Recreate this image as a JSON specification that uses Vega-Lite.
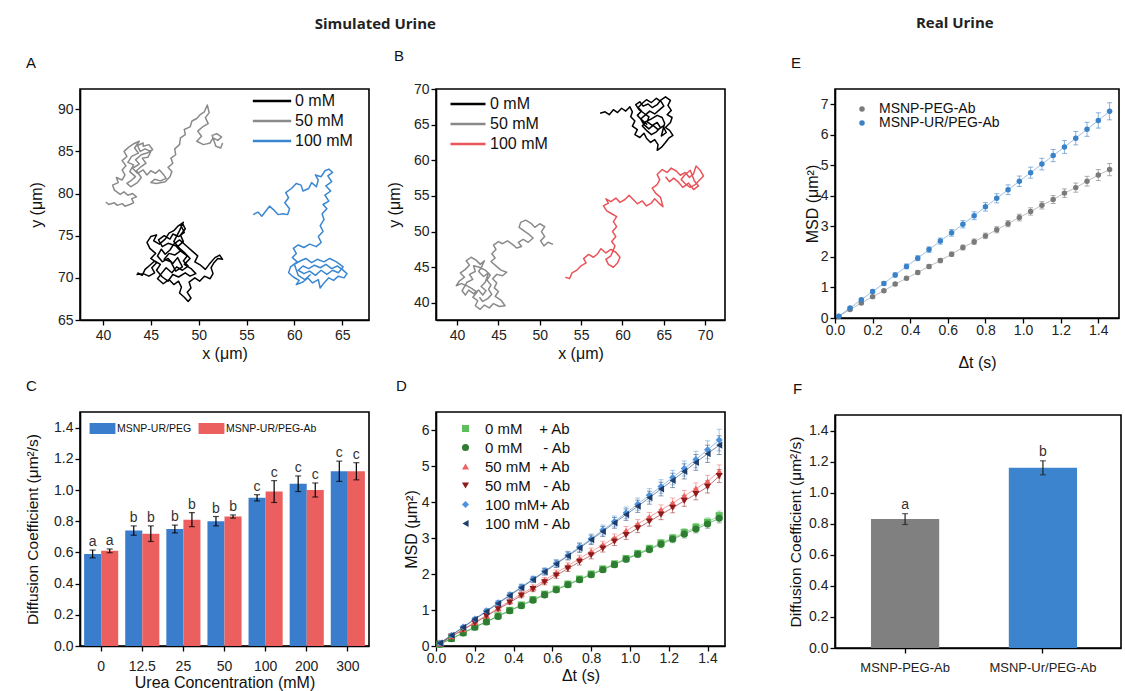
{
"$schema":"https://vega.github.io/schema/vega-lite/v6.json",
"background":"white",
"padding":{"left":24,"top":16,"right":0,"bottom":0},
"spacing":61,
"config":{
 "font":"Liberation Sans",
 "view":{"stroke":"#000000","strokeWidth":1.6},
 "axis":{"domainColor":"#000000","domainWidth":1.6,"tickColor":"#000000","tickWidth":1.3,"tickSize":5,"labelColor":"#222222","labelFontSize":14,"labelPadding":2,"labelFlush":false,"labelOverlap":false,"titleFontSize":16,"titleFontWeight":"normal","titleColor":"#111111","grid":false},
 "legend":{"labelColor":"#111111","padding":0,"titlePadding":0},
 "title":{"fontWeight":"normal","color":"#111111","fontSize":15}
},
"datasets":{
"trajA":[
{"s":"50 mM","x":40.3,"y":79.0},{"s":"50 mM","x":40.6,"y":78.7},{"s":"50 mM","x":41.2,"y":78.9},{"s":"50 mM","x":41.5,"y":78.6},{"s":"50 mM","x":42.0,"y":78.8},{"s":"50 mM","x":42.3,"y":78.5},{"s":"50 mM","x":42.8,"y":78.7},{"s":"50 mM","x":43.2,"y":78.9},{"s":"50 mM","x":43.0,"y":79.4},{"s":"50 mM","x":43.5,"y":79.6},{"s":"50 mM","x":43.1,"y":80.0},{"s":"50 mM","x":42.6,"y":79.8},{"s":"50 mM","x":42.2,"y":80.2},{"s":"50 mM","x":41.8,"y":79.9},{"s":"50 mM","x":41.2,"y":80.4},{"s":"50 mM","x":41.0,"y":81.0},{"s":"50 mM","x":41.6,"y":81.3},{"s":"50 mM","x":41.4,"y":81.9},{"s":"50 mM","x":42.0,"y":81.6},{"s":"50 mM","x":42.3,"y":82.2},{"s":"50 mM","x":42.0,"y":82.8},{"s":"50 mM","x":42.4,"y":83.3},{"s":"50 mM","x":42.0,"y":83.9},{"s":"50 mM","x":42.5,"y":84.4},{"s":"50 mM","x":42.2,"y":85.0},{"s":"50 mM","x":42.7,"y":85.5},{"s":"50 mM","x":43.2,"y":85.9},{"s":"50 mM","x":43.8,"y":86.2},
{"s":"50 mM","x":43.3,"y":85.4},{"s":"50 mM","x":43.7,"y":84.8},{"s":"50 mM","x":43.0,"y":84.4},{"s":"50 mM","x":42.6,"y":83.7},{"s":"50 mM","x":43.2,"y":83.4},{"s":"50 mM","x":42.8,"y":82.6},{"s":"50 mM","x":43.4,"y":82.0},{"s":"50 mM","x":43.0,"y":81.6},{"s":"50 mM","x":42.5,"y":81.2},{"s":"50 mM","x":42.9,"y":80.8},{"s":"50 mM","x":43.6,"y":81.3},{"s":"50 mM","x":44.0,"y":81.9},{"s":"50 mM","x":43.5,"y":82.7},{"s":"50 mM","x":44.0,"y":83.2},{"s":"50 mM","x":44.5,"y":83.6},{"s":"50 mM","x":44.1,"y":84.2},{"s":"50 mM","x":44.7,"y":84.3},{"s":"50 mM","x":45.0,"y":85.0},{"s":"50 mM","x":44.4,"y":85.3},{"s":"50 mM","x":43.9,"y":85.0},{"s":"50 mM","x":43.6,"y":85.7},{"s":"50 mM","x":44.2,"y":86.0},
{"s":"50 mM","x":44.2,"y":85.6},{"s":"50 mM","x":44.8,"y":85.8},{"s":"50 mM","x":45.2,"y":85.2},{"s":"50 mM","x":44.6,"y":84.8},{"s":"50 mM","x":44.0,"y":84.6},{"s":"50 mM","x":43.4,"y":84.0},{"s":"50 mM","x":43.8,"y":83.5},{"s":"50 mM","x":43.1,"y":83.0},{"s":"50 mM","x":43.6,"y":82.4},{"s":"50 mM","x":44.2,"y":82.8},{"s":"50 mM","x":44.6,"y":82.2},{"s":"50 mM","x":45.0,"y":82.7},{"s":"50 mM","x":45.5,"y":82.4},{"s":"50 mM","x":45.9,"y":82.8},{"s":"50 mM","x":46.3,"y":82.3},{"s":"50 mM","x":46.6,"y":81.8},{"s":"50 mM","x":46.0,"y":81.5},{"s":"50 mM","x":45.4,"y":81.7},{"s":"50 mM","x":45.0,"y":81.3},{"s":"50 mM","x":45.6,"y":81.2},{"s":"50 mM","x":46.5,"y":81.4},{"s":"50 mM","x":47.0,"y":82.0},{"s":"50 mM","x":47.2,"y":82.6},{"s":"50 mM","x":46.8,"y":83.1},{"s":"50 mM","x":47.3,"y":83.6},{"s":"50 mM","x":47.1,"y":84.2},{"s":"50 mM","x":47.6,"y":84.6},{"s":"50 mM","x":47.5,"y":85.3},{"s":"50 mM","x":48.0,"y":85.8},{"s":"50 mM","x":48.1,"y":86.6},{"s":"50 mM","x":48.6,"y":87.0},{"s":"50 mM","x":48.5,"y":87.6},{"s":"50 mM","x":49.1,"y":87.9},{"s":"50 mM","x":49.3,"y":88.6},{"s":"50 mM","x":49.8,"y":88.9},{"s":"50 mM","x":50.2,"y":89.4},{"s":"50 mM","x":50.6,"y":89.7},{"s":"50 mM","x":50.9,"y":90.5},{"s":"50 mM","x":51.1,"y":89.6},{"s":"50 mM","x":50.7,"y":89.0},{"s":"50 mM","x":51.0,"y":88.3},{"s":"50 mM","x":50.4,"y":87.9},{"s":"50 mM","x":49.9,"y":87.4},{"s":"50 mM","x":50.3,"y":86.8},{"s":"50 mM","x":49.8,"y":86.2},{"s":"50 mM","x":50.5,"y":85.8},{"s":"50 mM","x":51.2,"y":86.0},{"s":"50 mM","x":51.5,"y":86.6},{"s":"50 mM","x":52.0,"y":86.3},{"s":"50 mM","x":52.4,"y":86.7},{"s":"50 mM","x":51.9,"y":87.1},{"s":"50 mM","x":51.4,"y":86.9},{"s":"50 mM","x":51.8,"y":85.6},{"s":"50 mM","x":52.3,"y":85.4},{"s":"50 mM","x":52.5,"y":86.0},
{"s":"0 mM","x":43.5,"y":70.4},{"s":"0 mM","x":44.2,"y":70.5},{"s":"0 mM","x":44.8,"y":70.2},{"s":"0 mM","x":45.4,"y":70.6},{"s":"0 mM","x":45.1,"y":71.2},{"s":"0 mM","x":45.6,"y":71.8},{"s":"0 mM","x":45.0,"y":72.3},{"s":"0 mM","x":45.5,"y":72.9},{"s":"0 mM","x":44.9,"y":73.5},{"s":"0 mM","x":44.6,"y":74.2},{"s":"0 mM","x":45.0,"y":74.9},{"s":"0 mM","x":45.6,"y":75.1},{"s":"0 mM","x":45.3,"y":74.4},{"s":"0 mM","x":45.9,"y":74.0},{"s":"0 mM","x":46.5,"y":74.6},{"s":"0 mM","x":46.9,"y":75.3},{"s":"0 mM","x":47.4,"y":75.6},{"s":"0 mM","x":47.8,"y":76.1},{"s":"0 mM","x":48.3,"y":76.5},{"s":"0 mM","x":48.6,"y":75.8},{"s":"0 mM","x":48.1,"y":75.1},{"s":"0 mM","x":48.4,"y":74.3},{"s":"0 mM","x":47.8,"y":73.7},{"s":"0 mM","x":48.2,"y":73.1},{"s":"0 mM","x":48.8,"y":72.6},{"s":"0 mM","x":48.4,"y":72.0},{"s":"0 mM","x":48.9,"y":71.4},{"s":"0 mM","x":48.3,"y":70.9},{"s":"0 mM","x":47.7,"y":71.3},{"s":"0 mM","x":47.2,"y":70.6},{"s":"0 mM","x":46.6,"y":71.2},{"s":"0 mM","x":46.1,"y":70.5},{"s":"0 mM","x":45.7,"y":69.9},{"s":"0 mM","x":46.3,"y":69.3},{"s":"0 mM","x":46.9,"y":69.8},{"s":"0 mM","x":47.4,"y":69.2},{"s":"0 mM","x":47.9,"y":69.6},{"s":"0 mM","x":48.2,"y":68.9},{"s":"0 mM","x":48.0,"y":68.2},{"s":"0 mM","x":48.5,"y":67.7},{"s":"0 mM","x":48.9,"y":67.2},{"s":"0 mM","x":49.2,"y":67.6},{"s":"0 mM","x":48.8,"y":68.3},{"s":"0 mM","x":49.2,"y":68.8},{"s":"0 mM","x":49.0,"y":69.5},{"s":"0 mM","x":49.6,"y":70.0},{"s":"0 mM","x":50.1,"y":69.6},{"s":"0 mM","x":50.6,"y":70.2},{"s":"0 mM","x":51.2,"y":69.9},{"s":"0 mM","x":51.5,"y":70.5},{"s":"0 mM","x":51.3,"y":71.2},{"s":"0 mM","x":51.6,"y":71.8},{"s":"0 mM","x":52.0,"y":72.3},{"s":"0 mM","x":52.5,"y":72.2},{"s":"0 mM","x":52.2,"y":72.7},{"s":"0 mM","x":51.7,"y":72.4},{"s":"0 mM","x":51.1,"y":71.6},{"s":"0 mM","x":50.7,"y":71.0},{"s":"0 mM","x":50.2,"y":71.5},{"s":"0 mM","x":49.6,"y":71.9},{"s":"0 mM","x":49.9,"y":72.6},{"s":"0 mM","x":49.3,"y":73.2},{"s":"0 mM","x":48.7,"y":73.8},{"s":"0 mM","x":48.0,"y":74.5},{"s":"0 mM","x":47.4,"y":74.0},{"s":"0 mM","x":47.0,"y":73.3},{"s":"0 mM","x":46.5,"y":72.8},{"s":"0 mM","x":46.1,"y":73.4},{"s":"0 mM","x":45.7,"y":72.6},{"s":"0 mM","x":46.2,"y":71.9},{"s":"0 mM","x":46.8,"y":72.3},{"s":"0 mM","x":47.3,"y":71.7},{"s":"0 mM","x":47.8,"y":72.4},{"s":"0 mM","x":48.3,"y":71.3},
{"s":"0 mM","x":47.6,"y":70.8},{"s":"0 mM","x":47.1,"y":71.9},{"s":"0 mM","x":46.4,"y":72.2},{"s":"0 mM","x":46.9,"y":72.9},{"s":"0 mM","x":47.5,"y":72.7},{"s":"0 mM","x":48.1,"y":73.2},{"s":"0 mM","x":47.6,"y":73.8},{"s":"0 mM","x":46.8,"y":74.1},{"s":"0 mM","x":46.2,"y":73.7},{"s":"0 mM","x":45.8,"y":74.5},{"s":"0 mM","x":46.4,"y":75.0},{"s":"0 mM","x":47.0,"y":74.6},{"s":"0 mM","x":47.3,"y":75.2},{"s":"0 mM","x":47.9,"y":74.9},{"s":"0 mM","x":48.5,"y":75.4},{"s":"0 mM","x":48.1,"y":76.3},{"s":"0 mM","x":48.4,"y":76.6},{"s":"0 mM","x":48.0,"y":75.6},{"s":"0 mM","x":47.4,"y":74.3},{"s":"0 mM","x":48.0,"y":73.5},{"s":"0 mM","x":48.6,"y":72.9},{"s":"0 mM","x":49.1,"y":72.3},{"s":"0 mM","x":48.5,"y":71.6},{"s":"0 mM","x":49.2,"y":71.1},{"s":"0 mM","x":49.7,"y":70.5},{"s":"0 mM","x":49.1,"y":70.2},{"s":"0 mM","x":48.6,"y":70.6},{"s":"0 mM","x":47.9,"y":70.1},{"s":"0 mM","x":47.3,"y":70.4},{"s":"0 mM","x":46.8,"y":69.6},{"s":"0 mM","x":46.2,"y":70.1},{"s":"0 mM","x":45.6,"y":70.9},{"s":"0 mM","x":46.0,"y":71.6},{"s":"0 mM","x":45.4,"y":72.0},{"s":"0 mM","x":44.9,"y":71.5},{"s":"0 mM","x":44.4,"y":71.0},{"s":"0 mM","x":44.1,"y":70.3},{"s":"0 mM","x":43.6,"y":70.6},
{"s":"100 mM","x":55.7,"y":77.5},{"s":"100 mM","x":56.2,"y":77.8},{"s":"100 mM","x":56.6,"y":77.3},{"s":"100 mM","x":57.0,"y":77.9},{"s":"100 mM","x":57.4,"y":78.5},{"s":"100 mM","x":57.9,"y":78.0},{"s":"100 mM","x":58.3,"y":77.5},{"s":"100 mM","x":58.8,"y":77.6},{"s":"100 mM","x":59.3,"y":77.5},{"s":"100 mM","x":59.5,"y":78.2},{"s":"100 mM","x":59.0,"y":78.9},{"s":"100 mM","x":59.4,"y":79.5},{"s":"100 mM","x":59.1,"y":80.1},{"s":"100 mM","x":59.7,"y":80.6},{"s":"100 mM","x":60.2,"y":81.2},{"s":"100 mM","x":60.7,"y":81.0},{"s":"100 mM","x":60.9,"y":80.3},{"s":"100 mM","x":61.5,"y":80.6},{"s":"100 mM","x":61.8,"y":81.3},{"s":"100 mM","x":62.3,"y":80.8},{"s":"100 mM","x":62.5,"y":81.6},{"s":"100 mM","x":62.2,"y":82.2},{"s":"100 mM","x":62.8,"y":82.0},{"s":"100 mM","x":63.2,"y":82.7},{"s":"100 mM","x":63.6,"y":82.9},{"s":"100 mM","x":64.0,"y":82.5},{"s":"100 mM","x":63.5,"y":82.1},{"s":"100 mM","x":63.9,"y":81.4},{"s":"100 mM","x":63.3,"y":80.9},{"s":"100 mM","x":63.8,"y":80.3},{"s":"100 mM","x":63.2,"y":79.8},{"s":"100 mM","x":63.6,"y":79.1},{"s":"100 mM","x":63.0,"y":78.7},{"s":"100 mM","x":63.4,"y":78.2},{"s":"100 mM","x":62.9,"y":77.6},{"s":"100 mM","x":63.1,"y":76.9},{"s":"100 mM","x":62.7,"y":76.2},{"s":"100 mM","x":63.0,"y":75.5},{"s":"100 mM","x":62.5,"y":74.9},{"s":"100 mM","x":62.8,"y":74.2},{"s":"100 mM","x":62.3,"y":73.7},{"s":"100 mM","x":61.6,"y":74.0},{"s":"100 mM","x":61.0,"y":73.6},{"s":"100 mM","x":60.4,"y":73.9},{"s":"100 mM","x":59.9,"y":73.5},{"s":"100 mM","x":60.2,"y":72.9},{"s":"100 mM","x":59.8,"y":72.4},{"s":"100 mM","x":60.3,"y":71.9},{"s":"100 mM","x":59.6,"y":71.3},{"s":"100 mM","x":59.4,"y":70.6},{"s":"100 mM","x":59.9,"y":70.1},{"s":"100 mM","x":60.5,"y":69.7},{"s":"100 mM","x":60.2,"y":69.2},{"s":"100 mM","x":60.9,"y":69.5},{"s":"100 mM","x":61.4,"y":70.0},{"s":"100 mM","x":61.9,"y":69.4},{"s":"100 mM","x":62.5,"y":69.8},{"s":"100 mM","x":62.7,"y":68.8},{"s":"100 mM","x":63.1,"y":69.4},{"s":"100 mM","x":63.6,"y":70.0},{"s":"100 mM","x":64.1,"y":69.7},{"s":"100 mM","x":64.6,"y":70.2},{"s":"100 mM","x":65.2,"y":70.0},{"s":"100 mM","x":65.5,"y":70.5},{"s":"100 mM","x":65.0,"y":71.0},{"s":"100 mM","x":64.5,"y":71.4},{"s":"100 mM","x":63.9,"y":71.1},{"s":"100 mM","x":63.3,"y":71.6},{"s":"100 mM","x":62.7,"y":71.2},{"s":"100 mM","x":62.1,"y":71.5},{"s":"100 mM","x":61.5,"y":71.1},{"s":"100 mM","x":60.9,"y":71.4},{"s":"100 mM","x":60.4,"y":70.9},{"s":"100 mM","x":61.0,"y":70.5},{"s":"100 mM","x":61.6,"y":70.8},
{"s":"100 mM","x":62.2,"y":70.3},{"s":"100 mM","x":62.8,"y":70.9},{"s":"100 mM","x":63.4,"y":70.4},{"s":"100 mM","x":64.0,"y":70.9},{"s":"100 mM","x":64.6,"y":70.6},{"s":"100 mM","x":65.1,"y":71.3},{"s":"100 mM","x":64.4,"y":71.9},{"s":"100 mM","x":63.7,"y":72.3},{"s":"100 mM","x":63.1,"y":71.9},{"s":"100 mM","x":62.4,"y":72.2},{"s":"100 mM","x":61.8,"y":71.8},{"s":"100 mM","x":61.2,"y":72.3},{"s":"100 mM","x":60.6,"y":72.0},{"s":"100 mM","x":60.0,"y":71.6},{"s":"100 mM","x":60.4,"y":70.3},{"s":"100 mM","x":61.1,"y":69.8},{"s":"100 mM","x":61.7,"y":70.4}
],
"trajB":[
{"s":"0 mM","x":57.3,"y":66.6},{"s":"0 mM","x":57.9,"y":66.8},{"s":"0 mM","x":58.4,"y":66.4},{"s":"0 mM","x":58.9,"y":67.1},{"s":"0 mM","x":59.4,"y":66.7},{"s":"0 mM","x":59.9,"y":67.3},{"s":"0 mM","x":60.4,"y":66.9},{"s":"0 mM","x":60.9,"y":67.5},{"s":"0 mM","x":61.2,"y":66.8},{"s":"0 mM","x":61.0,"y":66.1},{"s":"0 mM","x":61.5,"y":65.5},{"s":"0 mM","x":61.2,"y":64.8},{"s":"0 mM","x":61.8,"y":64.3},{"s":"0 mM","x":61.5,"y":63.6},{"s":"0 mM","x":62.1,"y":63.2},{"s":"0 mM","x":62.6,"y":63.8},{"s":"0 mM","x":62.9,"y":63.1},{"s":"0 mM","x":63.4,"y":62.5},{"s":"0 mM","x":63.9,"y":62.9},{"s":"0 mM","x":64.3,"y":62.2},{"s":"0 mM","x":64.2,"y":61.4},{"s":"0 mM","x":64.7,"y":61.8},{"s":"0 mM","x":65.2,"y":62.5},{"s":"0 mM","x":65.6,"y":63.1},{"s":"0 mM","x":66.1,"y":63.5},{"s":"0 mM","x":65.7,"y":64.2},{"s":"0 mM","x":65.2,"y":64.6},{"s":"0 mM","x":65.8,"y":65.3},{"s":"0 mM","x":66.0,"y":66.0},{"s":"0 mM","x":65.4,"y":66.4},{"s":"0 mM","x":65.9,"y":67.0},{"s":"0 mM","x":65.5,"y":67.7},{"s":"0 mM","x":65.8,"y":68.4},{"s":"0 mM","x":65.2,"y":68.9},{"s":"0 mM","x":64.6,"y":68.4},{"s":"0 mM","x":64.2,"y":67.8},{"s":"0 mM","x":63.6,"y":67.4},{"s":"0 mM","x":63.1,"y":67.9},{"s":"0 mM","x":62.5,"y":67.6},{"s":"0 mM","x":62.1,"y":68.2},{"s":"0 mM","x":61.6,"y":67.8},{"s":"0 mM","x":62.0,"y":67.1},{"s":"0 mM","x":62.6,"y":66.6},{"s":"0 mM","x":63.2,"y":66.1},{"s":"0 mM","x":63.0,"y":65.4},{"s":"0 mM","x":63.6,"y":64.9},{"s":"0 mM","x":64.2,"y":65.3},{"s":"0 mM","x":64.6,"y":64.6},{"s":"0 mM","x":64.1,"y":64.0},{"s":"0 mM","x":63.5,"y":63.6},{"s":"0 mM","x":62.9,"y":64.2},{"s":"0 mM","x":62.4,"y":64.8},{"s":"0 mM","x":62.8,"y":65.4},{"s":"0 mM","x":63.5,"y":65.8},{"s":"0 mM","x":64.2,"y":66.3},{"s":"0 mM","x":64.8,"y":66.0},{"s":"0 mM","x":65.1,"y":65.2},{"s":"0 mM","x":64.7,"y":63.4},
{"s":"0 mM","x":65.3,"y":63.9},{"s":"0 mM","x":64.9,"y":64.8},{"s":"0 mM","x":64.3,"y":64.3},{"s":"0 mM","x":63.7,"y":64.9},{"s":"0 mM","x":63.2,"y":64.4},{"s":"0 mM","x":62.6,"y":65.0},{"s":"0 mM","x":62.2,"y":65.8},{"s":"0 mM","x":62.7,"y":66.3},{"s":"0 mM","x":63.3,"y":66.9},{"s":"0 mM","x":63.9,"y":66.5},{"s":"0 mM","x":64.5,"y":67.1},{"s":"0 mM","x":65.0,"y":67.6},{"s":"0 mM","x":64.7,"y":68.2},{"s":"0 mM","x":64.1,"y":68.7},{"s":"0 mM","x":63.5,"y":68.1},{"s":"0 mM","x":62.9,"y":68.5},{"s":"0 mM","x":62.4,"y":68.0},{"s":"0 mM","x":61.9,"y":67.4},{"s":"0 mM","x":62.3,"y":66.9},{"s":"0 mM","x":61.8,"y":66.3},{"s":"0 mM","x":62.3,"y":65.7},{"s":"0 mM","x":63.0,"y":65.0},
{"s":"50 mM","x":51.6,"y":48.2},{"s":"50 mM","x":51.0,"y":48.5},{"s":"50 mM","x":50.5,"y":48.0},{"s":"50 mM","x":50.1,"y":48.7},{"s":"50 mM","x":50.6,"y":49.3},{"s":"50 mM","x":50.2,"y":50.0},{"s":"50 mM","x":50.6,"y":50.7},{"s":"50 mM","x":50.0,"y":51.1},{"s":"50 mM","x":49.4,"y":50.6},{"s":"50 mM","x":48.9,"y":51.2},{"s":"50 mM","x":48.3,"y":51.6},{"s":"50 mM","x":47.7,"y":51.3},{"s":"50 mM","x":47.5,"y":50.6},{"s":"50 mM","x":48.1,"y":50.1},{"s":"50 mM","x":48.7,"y":49.6},{"s":"50 mM","x":49.2,"y":49.1},{"s":"50 mM","x":48.6,"y":48.5},{"s":"50 mM","x":48.0,"y":48.9},{"s":"50 mM","x":47.4,"y":48.5},{"s":"50 mM","x":47.8,"y":47.9},{"s":"50 mM","x":47.2,"y":47.7},{"s":"50 mM","x":46.7,"y":48.2},{"s":"50 mM","x":46.1,"y":48.7},{"s":"50 mM","x":45.5,"y":48.3},{"s":"50 mM","x":45.0,"y":48.6},{"s":"50 mM","x":44.4,"y":48.1},{"s":"50 mM","x":44.7,"y":47.5},{"s":"50 mM","x":44.2,"y":46.9},{"s":"50 mM","x":44.6,"y":46.3},{"s":"50 mM","x":44.1,"y":45.8},{"s":"50 mM","x":44.7,"y":45.2},{"s":"50 mM","x":45.3,"y":44.6},{"s":"50 mM","x":46.0,"y":44.3},{"s":"50 mM","x":45.5,"y":43.8},{"s":"50 mM","x":44.8,"y":44.0},{"s":"50 mM","x":44.3,"y":43.4},{"s":"50 mM","x":44.8,"y":42.8},{"s":"50 mM","x":44.5,"y":42.1},{"s":"50 mM","x":45.0,"y":41.6},{"s":"50 mM","x":44.6,"y":40.9},{"s":"50 mM","x":45.3,"y":40.4},{"s":"50 mM","x":45.8,"y":39.6},{"s":"50 mM","x":45.1,"y":39.5},{"s":"50 mM","x":44.4,"y":39.9},{"s":"50 mM","x":43.9,"y":39.3},{"s":"50 mM","x":43.3,"y":39.7},{"s":"50 mM","x":42.8,"y":39.1},{"s":"50 mM","x":42.2,"y":39.6},{"s":"50 mM","x":42.5,"y":40.3},{"s":"50 mM","x":41.9,"y":40.8},{"s":"50 mM","x":42.4,"y":41.5},{"s":"50 mM","x":41.8,"y":42.0},{"s":"50 mM","x":41.2,"y":42.4},{"s":"50 mM","x":40.5,"y":42.7},{"s":"50 mM","x":39.9,"y":42.4},{"s":"50 mM","x":40.3,"y":43.1},{"s":"50 mM","x":40.9,"y":43.6},{"s":"50 mM","x":40.4,"y":44.2},{"s":"50 mM","x":41.0,"y":44.7},{"s":"50 mM","x":41.5,"y":45.3},{"s":"50 mM","x":41.1,"y":45.9},{"s":"50 mM","x":41.7,"y":46.4},{"s":"50 mM","x":42.3,"y":46.0},{"s":"50 mM","x":42.8,"y":45.4},{"s":"50 mM","x":43.3,"y":45.9},{"s":"50 mM","x":43.0,"y":45.1},{"s":"50 mM","x":42.6,"y":44.4},{"s":"50 mM","x":43.2,"y":43.7},{"s":"50 mM","x":43.8,"y":44.2},{"s":"50 mM","x":43.4,"y":42.9},{"s":"50 mM","x":42.9,"y":42.3},{"s":"50 mM","x":43.5,"y":41.7},{"s":"50 mM","x":43.1,"y":41.1},{"s":"50 mM","x":42.6,"y":41.8},{"s":"50 mM","x":42.0,"y":41.3},
{"s":"50 mM","x":41.4,"y":41.8},{"s":"50 mM","x":41.0,"y":41.1},{"s":"50 mM","x":40.6,"y":41.7},{"s":"50 mM","x":41.2,"y":42.9},{"s":"50 mM","x":41.9,"y":43.3},{"s":"50 mM","x":41.5,"y":44.0},{"s":"50 mM","x":42.2,"y":44.4},{"s":"50 mM","x":42.0,"y":45.2},{"s":"50 mM","x":42.7,"y":45.0},{"s":"50 mM","x":43.4,"y":44.6},{"s":"50 mM","x":44.0,"y":43.9},{"s":"50 mM","x":43.6,"y":43.2},{"s":"50 mM","x":44.1,"y":42.5},{"s":"50 mM","x":43.8,"y":41.9},{"s":"50 mM","x":44.2,"y":41.2},{"s":"50 mM","x":43.7,"y":40.6},{"s":"50 mM","x":43.1,"y":40.2},{"s":"50 mM","x":42.7,"y":40.8},
{"s":"100 mM","x":53.1,"y":43.6},{"s":"100 mM","x":53.6,"y":43.4},{"s":"100 mM","x":53.9,"y":44.2},{"s":"100 mM","x":54.5,"y":44.6},{"s":"100 mM","x":55.0,"y":45.2},{"s":"100 mM","x":55.6,"y":45.6},{"s":"100 mM","x":55.3,"y":46.2},{"s":"100 mM","x":55.9,"y":46.8},{"s":"100 mM","x":56.5,"y":46.4},{"s":"100 mM","x":57.0,"y":46.9},{"s":"100 mM","x":57.4,"y":47.6},{"s":"100 mM","x":58.0,"y":47.0},{"s":"100 mM","x":58.6,"y":47.5},{"s":"100 mM","x":59.2,"y":47.1},{"s":"100 mM","x":59.7,"y":46.4},{"s":"100 mM","x":59.4,"y":45.6},{"s":"100 mM","x":58.9,"y":45.0},{"s":"100 mM","x":58.3,"y":45.4},{"s":"100 mM","x":58.0,"y":46.1},{"s":"100 mM","x":58.6,"y":46.6},{"s":"100 mM","x":59.1,"y":48.0},{"s":"100 mM","x":58.7,"y":48.6},{"s":"100 mM","x":59.2,"y":49.3},{"s":"100 mM","x":58.8,"y":50.0},{"s":"100 mM","x":59.3,"y":50.7},{"s":"100 mM","x":58.9,"y":51.4},{"s":"100 mM","x":59.3,"y":52.1},{"s":"100 mM","x":58.7,"y":52.5},{"s":"100 mM","x":58.1,"y":52.9},{"s":"100 mM","x":57.7,"y":53.6},{"s":"100 mM","x":58.3,"y":54.0},{"s":"100 mM","x":58.0,"y":54.6},{"s":"100 mM","x":58.6,"y":54.2},{"s":"100 mM","x":59.2,"y":54.7},{"s":"100 mM","x":59.7,"y":54.1},{"s":"100 mM","x":60.3,"y":54.5},{"s":"100 mM","x":60.8,"y":55.1},{"s":"100 mM","x":61.3,"y":54.5},{"s":"100 mM","x":61.8,"y":53.9},{"s":"100 mM","x":62.4,"y":54.3},{"s":"100 mM","x":62.9,"y":53.6},{"s":"100 mM","x":63.5,"y":54.0},{"s":"100 mM","x":63.9,"y":54.6},{"s":"100 mM","x":64.4,"y":54.0},{"s":"100 mM","x":64.9,"y":53.5},{"s":"100 mM","x":64.6,"y":54.8},{"s":"100 mM","x":64.0,"y":55.4},{"s":"100 mM","x":63.6,"y":56.1},{"s":"100 mM","x":64.2,"y":56.6},{"s":"100 mM","x":64.5,"y":57.3},{"s":"100 mM","x":64.2,"y":58.0},{"s":"100 mM","x":64.8,"y":58.7},{"s":"100 mM","x":65.4,"y":58.3},{"s":"100 mM","x":65.9,"y":58.9},{"s":"100 mM","x":66.5,"y":58.5},{"s":"100 mM","x":67.0,"y":57.9},{"s":"100 mM","x":67.6,"y":58.3},{"s":"100 mM","x":68.1,"y":57.6},{"s":"100 mM","x":68.6,"y":58.1},{"s":"100 mM","x":68.9,"y":59.2},{"s":"100 mM","x":69.4,"y":58.6},{"s":"100 mM","x":69.8,"y":57.8},{"s":"100 mM","x":69.3,"y":57.2},{"s":"100 mM","x":68.8,"y":56.6},{"s":"100 mM","x":68.2,"y":56.2},{"s":"100 mM","x":67.6,"y":56.7},{"s":"100 mM","x":67.1,"y":57.3},{"s":"100 mM","x":67.5,"y":57.9},
{"s":"100 mM","x":68.2,"y":58.6},{"s":"100 mM","x":68.7,"y":57.1},{"s":"100 mM","x":69.2,"y":56.4},{"s":"100 mM","x":68.6,"y":55.9},{"s":"100 mM","x":68.0,"y":56.8},{"s":"100 mM","x":67.3,"y":56.2},{"s":"100 mM","x":66.8,"y":56.9},{"s":"100 mM","x":66.2,"y":57.5},{"s":"100 mM","x":65.7,"y":57.0},{"s":"100 mM","x":65.2,"y":57.7}
],
"barsC":[
{"c":"0","g":"MSNP-UR/PEG","v":0.59,"lo":0.565,"hi":0.615,"sig":"a"},{"c":"0","g":"MSNP-UR/PEG-Ab","v":0.61,"lo":0.598,"hi":0.622,"sig":"a"},
{"c":"12.5","g":"MSNP-UR/PEG","v":0.74,"lo":0.71,"hi":0.77,"sig":"b"},{"c":"12.5","g":"MSNP-UR/PEG-Ab","v":0.72,"lo":0.67,"hi":0.77,"sig":"b"},
{"c":"25","g":"MSNP-UR/PEG","v":0.75,"lo":0.725,"hi":0.775,"sig":"b"},{"c":"25","g":"MSNP-UR/PEG-Ab","v":0.81,"lo":0.765,"hi":0.855,"sig":"b"},
{"c":"50","g":"MSNP-UR/PEG","v":0.8,"lo":0.77,"hi":0.83,"sig":"b"},{"c":"50","g":"MSNP-UR/PEG-Ab","v":0.83,"lo":0.82,"hi":0.84,"sig":"b"},
{"c":"100","g":"MSNP-UR/PEG","v":0.95,"lo":0.93,"hi":0.97,"sig":"c"},{"c":"100","g":"MSNP-UR/PEG-Ab","v":0.99,"lo":0.92,"hi":1.06,"sig":"c"},
{"c":"200","g":"MSNP-UR/PEG","v":1.04,"lo":0.99,"hi":1.09,"sig":"c"},{"c":"200","g":"MSNP-UR/PEG-Ab","v":1.0,"lo":0.955,"hi":1.045,"sig":"c"},
{"c":"300","g":"MSNP-UR/PEG","v":1.12,"lo":1.055,"hi":1.185,"sig":"c"},{"c":"300","g":"MSNP-UR/PEG-Ab","v":1.12,"lo":1.065,"hi":1.175,"sig":"c"}
],
"msdD":[
{"t":0.02,"s":"0 mM\u00a0\u00a0\u00a0\u00a0+ Ab","m":0.05,"e":0.01},{"t":0.08,"s":"0 mM\u00a0\u00a0\u00a0\u00a0+ Ab","m":0.21,"e":0.02},{"t":0.14,"s":"0 mM\u00a0\u00a0\u00a0\u00a0+ Ab","m":0.37,"e":0.02},{"t":0.2,"s":"0 mM\u00a0\u00a0\u00a0\u00a0+ Ab","m":0.53,"e":0.03},{"t":0.26,"s":"0 mM\u00a0\u00a0\u00a0\u00a0+ Ab","m":0.68,"e":0.03},{"t":0.32,"s":"0 mM\u00a0\u00a0\u00a0\u00a0+ Ab","m":0.84,"e":0.03},{"t":0.38,"s":"0 mM\u00a0\u00a0\u00a0\u00a0+ Ab","m":0.99,"e":0.04},{"t":0.44,"s":"0 mM\u00a0\u00a0\u00a0\u00a0+ Ab","m":1.14,"e":0.04},{"t":0.5,"s":"0 mM\u00a0\u00a0\u00a0\u00a0+ Ab","m":1.29,"e":0.05},{"t":0.56,"s":"0 mM\u00a0\u00a0\u00a0\u00a0+ Ab","m":1.44,"e":0.05},{"t":0.62,"s":"0 mM\u00a0\u00a0\u00a0\u00a0+ Ab","m":1.58,"e":0.05},{"t":0.68,"s":"0 mM\u00a0\u00a0\u00a0\u00a0+ Ab","m":1.72,"e":0.06},{"t":0.74,"s":"0 mM\u00a0\u00a0\u00a0\u00a0+ Ab","m":1.86,"e":0.06},{"t":0.8,"s":"0 mM\u00a0\u00a0\u00a0\u00a0+ Ab","m":2.0,"e":0.07},{"t":0.86,"s":"0 mM\u00a0\u00a0\u00a0\u00a0+ Ab","m":2.14,"e":0.07},{"t":0.92,"s":"0 mM\u00a0\u00a0\u00a0\u00a0+ Ab","m":2.28,"e":0.08},{"t":0.98,"s":"0 mM\u00a0\u00a0\u00a0\u00a0+ Ab","m":2.43,"e":0.08},{"t":1.04,"s":"0 mM\u00a0\u00a0\u00a0\u00a0+ Ab","m":2.57,"e":0.09},{"t":1.1,"s":"0 mM\u00a0\u00a0\u00a0\u00a0+ Ab","m":2.71,"e":0.09},{"t":1.16,"s":"0 mM\u00a0\u00a0\u00a0\u00a0+ Ab","m":2.86,"e":0.1},{"t":1.22,"s":"0 mM\u00a0\u00a0\u00a0\u00a0+ Ab","m":3.0,"e":0.1},{"t":1.28,"s":"0 mM\u00a0\u00a0\u00a0\u00a0+ Ab","m":3.15,"e":0.11},{"t":1.34,"s":"0 mM\u00a0\u00a0\u00a0\u00a0+ Ab","m":3.3,"e":0.11},{"t":1.4,"s":"0 mM\u00a0\u00a0\u00a0\u00a0+ Ab","m":3.44,"e":0.12},{"t":1.46,"s":"0 mM\u00a0\u00a0\u00a0\u00a0+ Ab","m":3.62,"e":0.13},
{"t":0.02,"s":"0 mM\u00a0\u00a0\u00a0\u00a0\u00a0- Ab","m":0.05,"e":0.01},{"t":0.08,"s":"0 mM\u00a0\u00a0\u00a0\u00a0\u00a0- Ab","m":0.2,"e":0.02},{"t":0.14,"s":"0 mM\u00a0\u00a0\u00a0\u00a0\u00a0- Ab","m":0.36,"e":0.02},{"t":0.2,"s":"0 mM\u00a0\u00a0\u00a0\u00a0\u00a0- Ab","m":0.52,"e":0.03},{"t":0.26,"s":"0 mM\u00a0\u00a0\u00a0\u00a0\u00a0- Ab","m":0.67,"e":0.03},{"t":0.32,"s":"0 mM\u00a0\u00a0\u00a0\u00a0\u00a0- Ab","m":0.82,"e":0.03},{"t":0.38,"s":"0 mM\u00a0\u00a0\u00a0\u00a0\u00a0- Ab","m":0.98,"e":0.04},{"t":0.44,"s":"0 mM\u00a0\u00a0\u00a0\u00a0\u00a0- Ab","m":1.12,"e":0.04},{"t":0.5,"s":"0 mM\u00a0\u00a0\u00a0\u00a0\u00a0- Ab","m":1.27,"e":0.05},{"t":0.56,"s":"0 mM\u00a0\u00a0\u00a0\u00a0\u00a0- Ab","m":1.42,"e":0.05},{"t":0.62,"s":"0 mM\u00a0\u00a0\u00a0\u00a0\u00a0- Ab","m":1.56,"e":0.05},{"t":0.68,"s":"0 mM\u00a0\u00a0\u00a0\u00a0\u00a0- Ab","m":1.7,"e":0.06},{"t":0.74,"s":"0 mM\u00a0\u00a0\u00a0\u00a0\u00a0- Ab","m":1.84,"e":0.06},{"t":0.8,"s":"0 mM\u00a0\u00a0\u00a0\u00a0\u00a0- Ab","m":1.98,"e":0.07},{"t":0.86,"s":"0 mM\u00a0\u00a0\u00a0\u00a0\u00a0- Ab","m":2.12,"e":0.07},{"t":0.92,"s":"0 mM\u00a0\u00a0\u00a0\u00a0\u00a0- Ab","m":2.26,"e":0.08},{"t":0.98,"s":"0 mM\u00a0\u00a0\u00a0\u00a0\u00a0- Ab","m":2.41,"e":0.08},{"t":1.04,"s":"0 mM\u00a0\u00a0\u00a0\u00a0\u00a0- Ab","m":2.55,"e":0.09},{"t":1.1,"s":"0 mM\u00a0\u00a0\u00a0\u00a0\u00a0- Ab","m":2.68,"e":0.09},{"t":1.16,"s":"0 mM\u00a0\u00a0\u00a0\u00a0\u00a0- Ab","m":2.83,"e":0.1},{"t":1.22,"s":"0 mM\u00a0\u00a0\u00a0\u00a0\u00a0- Ab","m":2.97,"e":0.1},{"t":1.28,"s":"0 mM\u00a0\u00a0\u00a0\u00a0\u00a0- Ab","m":3.11,"e":0.11},{"t":1.34,"s":"0 mM\u00a0\u00a0\u00a0\u00a0\u00a0- Ab","m":3.25,"e":0.11},{"t":1.4,"s":"0 mM\u00a0\u00a0\u00a0\u00a0\u00a0- Ab","m":3.39,"e":0.12},{"t":1.46,"s":"0 mM\u00a0\u00a0\u00a0\u00a0\u00a0- Ab","m":3.55,"e":0.13},
{"t":0.02,"s":"50 mM\u00a0\u00a0+ Ab","m":0.07,"e":0.01},{"t":0.08,"s":"50 mM\u00a0\u00a0+ Ab","m":0.27,"e":0.02},{"t":0.14,"s":"50 mM\u00a0\u00a0+ Ab","m":0.47,"e":0.03},{"t":0.2,"s":"50 mM\u00a0\u00a0+ Ab","m":0.66,"e":0.03},{"t":0.26,"s":"50 mM\u00a0\u00a0+ Ab","m":0.85,"e":0.04},{"t":0.32,"s":"50 mM\u00a0\u00a0+ Ab","m":1.05,"e":0.05},{"t":0.38,"s":"50 mM\u00a0\u00a0+ Ab","m":1.25,"e":0.05},{"t":0.44,"s":"50 mM\u00a0\u00a0+ Ab","m":1.45,"e":0.06},{"t":0.5,"s":"50 mM\u00a0\u00a0+ Ab","m":1.63,"e":0.07},{"t":0.56,"s":"50 mM\u00a0\u00a0+ Ab","m":1.83,"e":0.07},{"t":0.62,"s":"50 mM\u00a0\u00a0+ Ab","m":2.03,"e":0.08},{"t":0.68,"s":"50 mM\u00a0\u00a0+ Ab","m":2.23,"e":0.08},{"t":0.74,"s":"50 mM\u00a0\u00a0+ Ab","m":2.43,"e":0.09},{"t":0.8,"s":"50 mM\u00a0\u00a0+ Ab","m":2.62,"e":0.1},{"t":0.86,"s":"50 mM\u00a0\u00a0+ Ab","m":2.81,"e":0.1},{"t":0.92,"s":"50 mM\u00a0\u00a0+ Ab","m":3.0,"e":0.11},{"t":0.98,"s":"50 mM\u00a0\u00a0+ Ab","m":3.2,"e":0.12},{"t":1.04,"s":"50 mM\u00a0\u00a0+ Ab","m":3.39,"e":0.12},{"t":1.1,"s":"50 mM\u00a0\u00a0+ Ab","m":3.58,"e":0.13},{"t":1.16,"s":"50 mM\u00a0\u00a0+ Ab","m":3.78,"e":0.14},{"t":1.22,"s":"50 mM\u00a0\u00a0+ Ab","m":3.97,"e":0.14},{"t":1.28,"s":"50 mM\u00a0\u00a0+ Ab","m":4.17,"e":0.15},{"t":1.34,"s":"50 mM\u00a0\u00a0+ Ab","m":4.37,"e":0.16},{"t":1.4,"s":"50 mM\u00a0\u00a0+ Ab","m":4.57,"e":0.17},{"t":1.46,"s":"50 mM\u00a0\u00a0+ Ab","m":4.85,"e":0.18},
{"t":0.02,"s":"50 mM\u00a0\u00a0\u00a0- Ab","m":0.06,"e":0.01},{"t":0.08,"s":"50 mM\u00a0\u00a0\u00a0- Ab","m":0.26,"e":0.02},{"t":0.14,"s":"50 mM\u00a0\u00a0\u00a0- Ab","m":0.45,"e":0.03},{"t":0.2,"s":"50 mM\u00a0\u00a0\u00a0- Ab","m":0.64,"e":0.03},{"t":0.26,"s":"50 mM\u00a0\u00a0\u00a0- Ab","m":0.83,"e":0.04},{"t":0.32,"s":"50 mM\u00a0\u00a0\u00a0- Ab","m":1.02,"e":0.05},{"t":0.38,"s":"50 mM\u00a0\u00a0\u00a0- Ab","m":1.21,"e":0.05},{"t":0.44,"s":"50 mM\u00a0\u00a0\u00a0- Ab","m":1.4,"e":0.06},{"t":0.5,"s":"50 mM\u00a0\u00a0\u00a0- Ab","m":1.58,"e":0.07},{"t":0.56,"s":"50 mM\u00a0\u00a0\u00a0- Ab","m":1.77,"e":0.07},{"t":0.62,"s":"50 mM\u00a0\u00a0\u00a0- Ab","m":1.96,"e":0.08},{"t":0.68,"s":"50 mM\u00a0\u00a0\u00a0- Ab","m":2.15,"e":0.08},{"t":0.74,"s":"50 mM\u00a0\u00a0\u00a0- Ab","m":2.34,"e":0.09},{"t":0.8,"s":"50 mM\u00a0\u00a0\u00a0- Ab","m":2.52,"e":0.1},{"t":0.86,"s":"50 mM\u00a0\u00a0\u00a0- Ab","m":2.71,"e":0.1},{"t":0.92,"s":"50 mM\u00a0\u00a0\u00a0- Ab","m":2.9,"e":0.11},{"t":0.98,"s":"50 mM\u00a0\u00a0\u00a0- Ab","m":3.08,"e":0.12},{"t":1.04,"s":"50 mM\u00a0\u00a0\u00a0- Ab","m":3.27,"e":0.12},{"t":1.1,"s":"50 mM\u00a0\u00a0\u00a0- Ab","m":3.46,"e":0.13},{"t":1.16,"s":"50 mM\u00a0\u00a0\u00a0- Ab","m":3.65,"e":0.14},{"t":1.22,"s":"50 mM\u00a0\u00a0\u00a0- Ab","m":3.84,"e":0.14},{"t":1.28,"s":"50 mM\u00a0\u00a0\u00a0- Ab","m":4.03,"e":0.15},{"t":1.34,"s":"50 mM\u00a0\u00a0\u00a0- Ab","m":4.22,"e":0.16},{"t":1.4,"s":"50 mM\u00a0\u00a0\u00a0- Ab","m":4.42,"e":0.17},{"t":1.46,"s":"50 mM\u00a0\u00a0\u00a0- Ab","m":4.72,"e":0.18},
{"t":0.02,"s":"100 mM+ Ab","m":0.08,"e":0.01},{"t":0.08,"s":"100 mM+ Ab","m":0.3,"e":0.02},{"t":0.14,"s":"100 mM+ Ab","m":0.53,"e":0.03},{"t":0.2,"s":"100 mM+ Ab","m":0.75,"e":0.04},{"t":0.26,"s":"100 mM+ Ab","m":0.98,"e":0.05},{"t":0.32,"s":"100 mM+ Ab","m":1.2,"e":0.06},{"t":0.38,"s":"100 mM+ Ab","m":1.42,"e":0.07},{"t":0.44,"s":"100 mM+ Ab","m":1.64,"e":0.08},{"t":0.5,"s":"100 mM+ Ab","m":1.86,"e":0.08},{"t":0.56,"s":"100 mM+ Ab","m":2.08,"e":0.09},{"t":0.62,"s":"100 mM+ Ab","m":2.3,"e":0.1},{"t":0.68,"s":"100 mM+ Ab","m":2.52,"e":0.11},{"t":0.74,"s":"100 mM+ Ab","m":2.75,"e":0.12},{"t":0.8,"s":"100 mM+ Ab","m":2.98,"e":0.13},{"t":0.86,"s":"100 mM+ Ab","m":3.22,"e":0.14},{"t":0.92,"s":"100 mM+ Ab","m":3.46,"e":0.15},{"t":0.98,"s":"100 mM+ Ab","m":3.7,"e":0.16},{"t":1.04,"s":"100 mM+ Ab","m":3.94,"e":0.17},{"t":1.1,"s":"100 mM+ Ab","m":4.19,"e":0.18},{"t":1.16,"s":"100 mM+ Ab","m":4.43,"e":0.19},{"t":1.22,"s":"100 mM+ Ab","m":4.68,"e":0.2},{"t":1.28,"s":"100 mM+ Ab","m":4.93,"e":0.21},{"t":1.34,"s":"100 mM+ Ab","m":5.18,"e":0.23},{"t":1.4,"s":"100 mM+ Ab","m":5.45,"e":0.25},{"t":1.46,"s":"100 mM+ Ab","m":5.72,"e":0.3},
{"t":0.02,"s":"100 mM - Ab","m":0.08,"e":0.01},{"t":0.08,"s":"100 mM - Ab","m":0.3,"e":0.02},{"t":0.14,"s":"100 mM - Ab","m":0.52,"e":0.03},{"t":0.2,"s":"100 mM - Ab","m":0.74,"e":0.04},{"t":0.26,"s":"100 mM - Ab","m":0.96,"e":0.05},{"t":0.32,"s":"100 mM - Ab","m":1.18,"e":0.06},{"t":0.38,"s":"100 mM - Ab","m":1.4,"e":0.07},{"t":0.44,"s":"100 mM - Ab","m":1.62,"e":0.08},{"t":0.5,"s":"100 mM - Ab","m":1.84,"e":0.08},{"t":0.56,"s":"100 mM - Ab","m":2.06,"e":0.09},{"t":0.62,"s":"100 mM - Ab","m":2.28,"e":0.1},{"t":0.68,"s":"100 mM - Ab","m":2.5,"e":0.11},{"t":0.74,"s":"100 mM - Ab","m":2.72,"e":0.12},{"t":0.8,"s":"100 mM - Ab","m":2.95,"e":0.13},{"t":0.86,"s":"100 mM - Ab","m":3.18,"e":0.14},{"t":0.92,"s":"100 mM - Ab","m":3.42,"e":0.15},{"t":0.98,"s":"100 mM - Ab","m":3.65,"e":0.16},{"t":1.04,"s":"100 mM - Ab","m":3.88,"e":0.17},{"t":1.1,"s":"100 mM - Ab","m":4.12,"e":0.18},{"t":1.16,"s":"100 mM - Ab","m":4.36,"e":0.19},{"t":1.22,"s":"100 mM - Ab","m":4.6,"e":0.2},{"t":1.28,"s":"100 mM - Ab","m":4.85,"e":0.21},{"t":1.34,"s":"100 mM - Ab","m":5.1,"e":0.22},{"t":1.4,"s":"100 mM - Ab","m":5.34,"e":0.24},{"t":1.46,"s":"100 mM - Ab","m":5.58,"e":0.26}
],
"msdE":[
{"t":0.02,"s":"MSNP-PEG-Ab","m":0.05,"e":0.01},{"t":0.08,"s":"MSNP-PEG-Ab","m":0.28,"e":0.02},{"t":0.14,"s":"MSNP-PEG-Ab","m":0.49,"e":0.03},{"t":0.2,"s":"MSNP-PEG-Ab","m":0.7,"e":0.03},{"t":0.26,"s":"MSNP-PEG-Ab","m":0.89,"e":0.04},{"t":0.32,"s":"MSNP-PEG-Ab","m":1.11,"e":0.05},{"t":0.38,"s":"MSNP-PEG-Ab","m":1.3,"e":0.05},{"t":0.44,"s":"MSNP-PEG-Ab","m":1.49,"e":0.06},{"t":0.5,"s":"MSNP-PEG-Ab","m":1.69,"e":0.06},{"t":0.56,"s":"MSNP-PEG-Ab","m":1.88,"e":0.07},{"t":0.62,"s":"MSNP-PEG-Ab","m":2.09,"e":0.07},{"t":0.68,"s":"MSNP-PEG-Ab","m":2.31,"e":0.08},{"t":0.74,"s":"MSNP-PEG-Ab","m":2.5,"e":0.09},{"t":0.8,"s":"MSNP-PEG-Ab","m":2.69,"e":0.09},{"t":0.86,"s":"MSNP-PEG-Ab","m":2.89,"e":0.1},{"t":0.92,"s":"MSNP-PEG-Ab","m":3.09,"e":0.1},{"t":0.98,"s":"MSNP-PEG-Ab","m":3.29,"e":0.11},{"t":1.04,"s":"MSNP-PEG-Ab","m":3.49,"e":0.12},{"t":1.1,"s":"MSNP-PEG-Ab","m":3.69,"e":0.12},{"t":1.16,"s":"MSNP-PEG-Ab","m":3.88,"e":0.13},{"t":1.22,"s":"MSNP-PEG-Ab","m":4.09,"e":0.14},{"t":1.28,"s":"MSNP-PEG-Ab","m":4.27,"e":0.15},{"t":1.34,"s":"MSNP-PEG-Ab","m":4.48,"e":0.16},{"t":1.4,"s":"MSNP-PEG-Ab","m":4.68,"e":0.18},{"t":1.46,"s":"MSNP-PEG-Ab","m":4.86,"e":0.2},
{"t":0.02,"s":"MSNP-UR/PEG-Ab","m":0.06,"e":0.02},{"t":0.08,"s":"MSNP-UR/PEG-Ab","m":0.33,"e":0.03},{"t":0.14,"s":"MSNP-UR/PEG-Ab","m":0.6,"e":0.04},{"t":0.2,"s":"MSNP-UR/PEG-Ab","m":0.87,"e":0.05},{"t":0.26,"s":"MSNP-UR/PEG-Ab","m":1.13,"e":0.06},{"t":0.32,"s":"MSNP-UR/PEG-Ab","m":1.41,"e":0.07},{"t":0.38,"s":"MSNP-UR/PEG-Ab","m":1.69,"e":0.08},{"t":0.44,"s":"MSNP-UR/PEG-Ab","m":1.96,"e":0.08},{"t":0.5,"s":"MSNP-UR/PEG-Ab","m":2.24,"e":0.09},{"t":0.56,"s":"MSNP-UR/PEG-Ab","m":2.52,"e":0.1},{"t":0.62,"s":"MSNP-UR/PEG-Ab","m":2.79,"e":0.11},{"t":0.68,"s":"MSNP-UR/PEG-Ab","m":3.07,"e":0.12},{"t":0.74,"s":"MSNP-UR/PEG-Ab","m":3.35,"e":0.13},{"t":0.8,"s":"MSNP-UR/PEG-Ab","m":3.64,"e":0.14},{"t":0.86,"s":"MSNP-UR/PEG-Ab","m":3.92,"e":0.15},{"t":0.92,"s":"MSNP-UR/PEG-Ab","m":4.2,"e":0.16},{"t":0.98,"s":"MSNP-UR/PEG-Ab","m":4.48,"e":0.17},{"t":1.04,"s":"MSNP-UR/PEG-Ab","m":4.76,"e":0.18},{"t":1.1,"s":"MSNP-UR/PEG-Ab","m":5.04,"e":0.19},{"t":1.16,"s":"MSNP-UR/PEG-Ab","m":5.32,"e":0.2},{"t":1.22,"s":"MSNP-UR/PEG-Ab","m":5.6,"e":0.21},{"t":1.28,"s":"MSNP-UR/PEG-Ab","m":5.89,"e":0.22},{"t":1.34,"s":"MSNP-UR/PEG-Ab","m":6.18,"e":0.23},{"t":1.4,"s":"MSNP-UR/PEG-Ab","m":6.47,"e":0.25},{"t":1.46,"s":"MSNP-UR/PEG-Ab","m":6.77,"e":0.28}
],
"barsF":[
{"n":"MSNP-PEG-Ab","v":0.83,"lo":0.795,"hi":0.865,"sig":"a"},
{"n":"MSNP-Ur/PEG-Ab","v":1.16,"lo":1.115,"hi":1.205,"sig":"b"}
]
},
"resolve":{"scale":{"color":"independent","shape":"independent"}},
"hconcat":[
{
 "title":{"text":"Simulated Urine","anchor":"middle","frame":"bounds","fontSize":15,"fontWeight":"bold","font":"Open Sans","color":"#222222","baseline":"alphabetic","offset":4},
 "bounds":"flush",
 "columns":2,
 "spacing":{"row":92,"column":67},
 "resolve":{"scale":{"color":"independent","shape":"independent"}},
 "concat":[
 {
  "width":289,"height":231,
  "title":{"text":"A","anchor":"start","frame":"group","dx":-54,"offset":6,"baseline":"alphabetic","fontSize":15},
  "data":{"name":"trajA"},
  "mark":{"type":"line","strokeWidth":1.5,"strokeJoin":"round"},
  "encoding":{
   "x":{"field":"x","type":"quantitative","scale":{"domain":[37.6,67.8],"nice":false,"zero":false},"axis":{"title":"x (μm)","values":[40,45,50,55,60,65],"labelPadding":3,"titlePadding":3}},
   "y":{"field":"y","type":"quantitative","scale":{"domain":[65,92.4],"nice":false,"zero":false},"axis":{"title":"y (μm)","values":[65,70,75,80,85,90],"titlePadding":13}},
   "color":{"field":"s","type":"nominal","scale":{"domain":["0 mM","50 mM","100 mM"],"range":["#000000","#8a8a8a","#3a86d0"]},"legend":{"title":null,"orient":"none","legendX":184,"legendY":4,"symbolType":"M-7,0H7","symbolSize":30,"symbolStrokeWidth":2.5,"labelOffset":15,"labelFontSize":16,"rowPadding":4}},
   "order":{"value":null}
  }
 },
 {
  "width":289,"height":231,
  "title":{"text":"B","anchor":"start","frame":"group","dx":-42,"offset":6,"baseline":"alphabetic","fontSize":15},
  "data":{"name":"trajB"},
  "mark":{"type":"line","strokeWidth":1.5,"strokeJoin":"round"},
  "encoding":{
   "x":{"field":"x","type":"quantitative","scale":{"domain":[37.45,72.4],"nice":false,"zero":false},"axis":{"title":"x (μm)","values":[40,45,50,55,60,65,70],"labelPadding":3,"titlePadding":3}},
   "y":{"field":"y","type":"quantitative","scale":{"domain":[37.6,70],"nice":false,"zero":false},"axis":{"title":"y (μm)","values":[40,45,50,55,60,65,70],"titlePadding":11}},
   "color":{"field":"s","type":"nominal","scale":{"domain":["0 mM","50 mM","100 mM"],"range":["#000000","#8a8a8a","#e8545a"]},"legend":{"title":null,"orient":"none","legendX":24,"legendY":7,"symbolType":"M-7,0H7","symbolSize":25,"symbolStrokeWidth":2.5,"labelOffset":14,"labelFontSize":16,"rowPadding":4}},
   "order":{"value":null}
  }
 },
 {
  "width":289,"height":234,
  "title":{"text":"C","anchor":"start","frame":"group","dx":-54,"offset":6,"baseline":"alphabetic","fontSize":15},
  "data":{"name":"barsC"},
  "encoding":{
   "x":{"field":"c","type":"ordinal","sort":["0","12.5","25","50","100","200","300"],"scale":{"paddingInner":0.17,"paddingOuter":0.1},"axis":{"title":"Urea Concentration (mM)","labelAngle":0,"labelPadding":8,"titlePadding":1,"titleFontSize":16}},
   "xOffset":{"field":"g","type":"nominal","scale":{"domain":["MSNP-UR/PEG","MSNP-UR/PEG-Ab"]}}
  },
  "layer":[
   {"mark":{"type":"bar"},
    "encoding":{
     "y":{"field":"v","type":"quantitative","title":"Diffusion Coefficient (μm²/s)","scale":{"domain":[0,1.5],"nice":false},"axis":{"values":[0,0.2,0.4,0.6,0.8,1.0,1.2,1.4],"format":".1f","labelOverlap":false,"titlePadding":13,"titleFontSize":15.5}},
     "color":{"field":"g","type":"nominal","scale":{"domain":["MSNP-UR/PEG","MSNP-UR/PEG-Ab"],"range":["#3a7dcc","#ec5f5f"]},"legend":{"title":null,"orient":"none","direction":"horizontal","legendX":17,"legendY":11,"symbolType":"M-2.35,-1H2.35V1H-2.35Z","symbolSize":121,"symbolStrokeWidth":0,"labelOffset":9,"labelFontSize":10.5,"columnPadding":6}}
    }},
   {"mark":{"type":"rule","color":"#000000","strokeWidth":1.2},
    "encoding":{"y":{"field":"lo","type":"quantitative","title":"Diffusion Coefficient (μm²/s)","axis":{"values":[0,0.2,0.4,0.6,0.8,1.0,1.2,1.4],"format":".1f","labelOverlap":false,"titlePadding":13,"titleFontSize":15.5}},"y2":{"field":"hi"}}},
   {"mark":{"type":"tick","color":"#000000","thickness":1.2,"size":6},
    "encoding":{"y":{"field":"hi","type":"quantitative","title":"Diffusion Coefficient (μm²/s)","axis":{"values":[0,0.2,0.4,0.6,0.8,1.0,1.2,1.4],"format":".1f","labelOverlap":false,"titlePadding":13,"titleFontSize":15.5}}}},
   {"mark":{"type":"tick","color":"#000000","thickness":1.2,"size":6},
    "encoding":{"y":{"field":"lo","type":"quantitative","title":"Diffusion Coefficient (μm²/s)","axis":{"values":[0,0.2,0.4,0.6,0.8,1.0,1.2,1.4],"format":".1f","labelOverlap":false,"titlePadding":13,"titleFontSize":15.5}}}},
   {"mark":{"type":"text","baseline":"bottom","dy":-1,"fontSize":14,"color":"#333333"},
    "encoding":{"y":{"field":"hi","type":"quantitative","title":"Diffusion Coefficient (μm²/s)","axis":{"values":[0,0.2,0.4,0.6,0.8,1.0,1.2,1.4],"format":".1f","labelOverlap":false,"titlePadding":13,"titleFontSize":15.5}},"text":{"field":"sig"}}}
  ]
 },
 {
  "width":289,"height":234,
  "title":{"text":"D","anchor":"start","frame":"group","dx":-40,"offset":6,"baseline":"alphabetic","fontSize":15},
  "data":{"name":"msdD"},
  "encoding":{
   "x":{"field":"t","type":"quantitative","title":"Δt (s)","scale":{"domain":[0,1.49],"nice":false,"zero":false},"axis":{"values":[0,0.2,0.4,0.6,0.8,1.0,1.2,1.4],"format":".1f","labelPadding":0,"titlePadding":2}},
   "y":{"field":"m","type":"quantitative","title":"MSD (μm²)","scale":{"domain":[0,6.5],"nice":false},"axis":{"values":[0,1,2,3,4,5,6],"titlePadding":2}},
   "color":{"field":"s","type":"nominal","scale":{"domain":["0 mM\u00a0\u00a0\u00a0\u00a0+ Ab","0 mM\u00a0\u00a0\u00a0\u00a0\u00a0- Ab","50 mM\u00a0\u00a0+ Ab","50 mM\u00a0\u00a0\u00a0- Ab","100 mM+ Ab","100 mM - Ab"],"range":["#5cbf5c","#2e7d32","#ef6060","#8e1b1b","#4b93de","#1e3d6b"]},"legend":{"title":null,"orient":"none","legendX":22,"legendY":9,"symbolSize":50,"symbolStrokeWidth":0,"symbolOpacity":1,"labelOffset":12,"labelFontSize":15,"rowPadding":3}}
  },
  "layer":[
   {"mark":{"type":"line","strokeWidth":1,"opacity":0.6}},
   {"mark":{"type":"errorbar","ticks":true,"opacity":0.5},
    "encoding":{"yError":{"field":"e"}}},
   {"mark":{"type":"point","filled":true,"size":50,"opacity":1},
    "encoding":{
     "shape":{"field":"s","type":"nominal","scale":{"domain":["0 mM\u00a0\u00a0\u00a0\u00a0+ Ab","0 mM\u00a0\u00a0\u00a0\u00a0\u00a0- Ab","50 mM\u00a0\u00a0+ Ab","50 mM\u00a0\u00a0\u00a0- Ab","100 mM+ Ab","100 mM - Ab"],"range":["square","circle","triangle-up","triangle-down","diamond","triangle-left"]},"legend":{"title":null,"orient":"none","legendX":22,"legendY":9,"symbolSize":50,"symbolStrokeWidth":0,"symbolOpacity":1,"labelOffset":12,"labelFontSize":15,"rowPadding":3}}
    }}
  ]
 }
 ]
},
{
 "title":{"text":"Real Urine","anchor":"middle","frame":"bounds","fontSize":15,"fontWeight":"bold","font":"Open Sans","color":"#222222","baseline":"alphabetic","offset":12},
 "bounds":"flush",
 "spacing":97,
 "resolve":{"scale":{"color":"independent","shape":"independent"}},
 "vconcat":[
 {
  "width":284,"height":229,
  "title":{"text":"E","anchor":"start","frame":"group","dx":-44,"offset":6,"baseline":"alphabetic","fontSize":15},
  "data":{"name":"msdE"},
  "encoding":{
   "x":{"field":"t","type":"quantitative","title":"Δt (s)","scale":{"domain":[0,1.51],"nice":false,"zero":false},"axis":{"values":[0,0.2,0.4,0.6,0.8,1.0,1.2,1.4],"format":".1f","labelPadding":0,"titlePadding":17}},
   "y":{"field":"m","type":"quantitative","title":"MSD (μm²)","scale":{"domain":[0,7.5],"nice":false},"axis":{"values":[0,1,2,3,4,5,6,7],"titlePadding":0}},
   "color":{"field":"s","type":"nominal","scale":{"domain":["MSNP-PEG-Ab","MSNP-UR/PEG-Ab"],"range":["#7a7a7a","#3a82c8"]},"legend":{"title":null,"orient":"none","legendX":20,"legendY":13,"symbolType":"circle","symbolSize":30,"symbolStrokeWidth":0,"symbolOpacity":1,"labelOffset":10,"labelFontSize":14,"rowPadding":0}}
  },
  "layer":[
   {"mark":{"type":"line","strokeWidth":1,"opacity":0.5}},
   {"mark":{"type":"errorbar","ticks":true,"opacity":0.6},
    "encoding":{"yError":{"field":"e"}}},
   {"mark":{"type":"point","filled":true,"size":30,"opacity":1}}
  ]
 },
 {
  "width":286,"height":233,
  "title":{"text":"F","anchor":"start","frame":"group","dx":-42,"offset":6,"baseline":"alphabetic","fontSize":15},
  "data":{"name":"barsF"},
  "encoding":{
   "x":{"field":"n","type":"nominal","sort":null,"scale":{"paddingInner":0.505,"paddingOuter":0.29,"align":0.45},"axis":{"title":null,"labelAngle":0,"labelPadding":8,"labelFontSize":13}}
  },
  "layer":[
   {"mark":{"type":"bar"},
    "encoding":{
     "y":{"field":"v","type":"quantitative","title":"Diffusion Coefficient (μm²/s)","scale":{"domain":[0,1.5],"nice":false},"axis":{"values":[0,0.2,0.4,0.6,0.8,1.0,1.2,1.4],"format":".1f","labelOverlap":false,"titlePadding":5,"titleFontSize":15.5}},
     "color":{"field":"n","type":"nominal","scale":{"domain":["MSNP-PEG-Ab","MSNP-Ur/PEG-Ab"],"range":["#808080","#3d84cf"]},"legend":null}
    }},
   {"mark":{"type":"rule","color":"#222222","strokeWidth":1.2},
    "encoding":{"y":{"field":"lo","type":"quantitative","title":"Diffusion Coefficient (μm²/s)","axis":{"values":[0,0.2,0.4,0.6,0.8,1.0,1.2,1.4],"format":".1f","labelOverlap":false,"titlePadding":5,"titleFontSize":15.5}},"y2":{"field":"hi"}}},
   {"mark":{"type":"tick","color":"#222222","thickness":1.2,"size":6},
    "encoding":{"y":{"field":"hi","type":"quantitative","title":"Diffusion Coefficient (μm²/s)","axis":{"values":[0,0.2,0.4,0.6,0.8,1.0,1.2,1.4],"format":".1f","labelOverlap":false,"titlePadding":5,"titleFontSize":15.5}}}},
   {"mark":{"type":"tick","color":"#222222","thickness":1.2,"size":6},
    "encoding":{"y":{"field":"lo","type":"quantitative","title":"Diffusion Coefficient (μm²/s)","axis":{"values":[0,0.2,0.4,0.6,0.8,1.0,1.2,1.4],"format":".1f","labelOverlap":false,"titlePadding":5,"titleFontSize":15.5}}}},
   {"mark":{"type":"text","baseline":"bottom","dy":-2,"fontSize":14,"color":"#333333"},
    "encoding":{"y":{"field":"hi","type":"quantitative","title":"Diffusion Coefficient (μm²/s)","axis":{"values":[0,0.2,0.4,0.6,0.8,1.0,1.2,1.4],"format":".1f","labelOverlap":false,"titlePadding":5,"titleFontSize":15.5}},"text":{"field":"sig"}}}
  ]
 }
 ]
}
]
}
